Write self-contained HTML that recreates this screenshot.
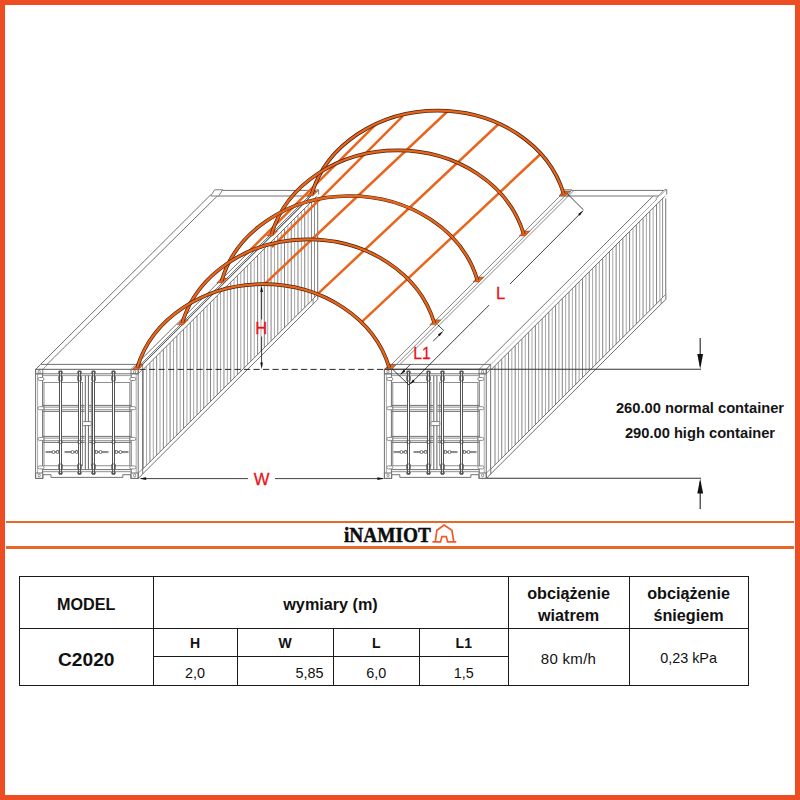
<!DOCTYPE html>
<html lang="pl">
<head>
<meta charset="utf-8">
<title>C2020</title>
<style>
html,body{margin:0;padding:0;background:#fff;}
body{width:800px;height:800px;position:relative;overflow:hidden;font-family:"Liberation Sans",sans-serif;color:#111;}
.frame{position:absolute;left:0;top:0;width:790px;height:790px;border:5px solid #ee4c23;pointer-events:none;z-index:5;}
svg{position:absolute;left:0;top:0;}
svg text{font-family:"Liberation Sans",sans-serif;}
.sep{position:absolute;left:6px;width:788px;height:2.4px;background:#e6682b;}
.logo{position:absolute;left:343.6px;top:523px;height:24px;line-height:24px;font-family:"Liberation Serif",serif;font-weight:bold;font-size:21px;color:#0d0d0d;white-space:nowrap;transform-origin:0 50%;transform:scaleX(0.918);letter-spacing:0px;-webkit-text-stroke:0.45px #0d0d0d;}
.note{position:absolute;left:600px;width:200px;text-align:center;font-weight:bold;font-size:14.7px;color:#151515;white-space:nowrap;}
table{position:absolute;left:19px;top:576px;border-collapse:collapse;table-layout:fixed;width:729px;}
td{border:1.2px solid #1a1a1a;padding:0;text-align:center;vertical-align:middle;color:#111;overflow:hidden;}
.h{font-weight:bold;font-size:16.2px;line-height:22px;padding-top:2px;}
.m{font-weight:bold;font-size:19.2px;padding-top:6px;}
.s{font-weight:bold;font-size:14px;padding-top:1px;}
.v{font-size:14.4px;padding-top:3px;}
</style>
</head>
<body>
<svg width="800" height="800" viewBox="0 0 800 800">
<g id="left-container">
<path d="M35.60,369.40 L138.20,369.40 L317.70,190.40 L215.10,190.40 Z" fill="#fff" stroke="none" stroke-width="0" stroke-linejoin="round"/>
<path d="M35.60,369.40 L40.60,364.40 L143.20,364.40 L138.20,369.40 Z" fill="#fff" stroke="#727272" stroke-width="1.0" stroke-linejoin="round"/>
<line x1="42.80" y1="369.40" x2="47.80" y2="364.40" stroke="#727272" stroke-width="0.8" />
<line x1="131.00" y1="369.40" x2="136.00" y2="364.40" stroke="#727272" stroke-width="0.8" />
<line x1="215.10" y1="190.40" x2="317.70" y2="190.40" stroke="#727272" stroke-width="1.0" />
<line x1="217.10" y1="196.00" x2="311.70" y2="196.00" stroke="#727272" stroke-width="1.0" />
<line x1="40.60" y1="364.40" x2="210.60" y2="194.90" stroke="#727272" stroke-width="1.0" />
<line x1="47.00" y1="364.40" x2="217.30" y2="196.00" stroke="#727272" stroke-width="1.0" />
<line x1="138.20" y1="369.40" x2="317.70" y2="190.40" stroke="#727272" stroke-width="1.0" />
<line x1="136.20" y1="364.40" x2="305.10" y2="196.00" stroke="#727272" stroke-width="1.0" />
<path d="M210.70,196.00 L214.70,189.80 L222.70,189.80 L218.70,196.00 Z" fill="#fff" stroke="#727272" stroke-width="0.9" stroke-linejoin="round"/>
<path d="M308.10,198.60 L316.30,189.80 L318.70,189.80 L318.70,194.00 L313.10,199.40 L308.10,199.40 Z" fill="#fff" stroke="#727272" stroke-width="0.9" stroke-linejoin="round"/>
<line x1="313.10" y1="194.80" x2="313.10" y2="199.40" stroke="#727272" stroke-width="0.8" />
<line x1="313.10" y1="194.80" x2="318.70" y2="189.80" stroke="#727272" stroke-width="0.8" />
<path d="M138.20,369.40 L317.70,190.40 L317.70,299.40 L138.20,478.40 Z" fill="#fff" stroke="none" stroke-width="0" stroke-linejoin="round"/>
<line x1="143.20" y1="369.61" x2="143.20" y2="468.61" stroke="#6e6e6e" stroke-width="0.85" />
<line x1="146.56" y1="366.26" x2="146.56" y2="465.26" stroke="#979797" stroke-width="0.85" />
<line x1="149.93" y1="362.90" x2="149.93" y2="461.90" stroke="#6e6e6e" stroke-width="0.85" />
<line x1="153.29" y1="359.55" x2="153.29" y2="458.55" stroke="#979797" stroke-width="0.85" />
<line x1="156.66" y1="356.19" x2="156.66" y2="455.19" stroke="#6e6e6e" stroke-width="0.85" />
<line x1="160.02" y1="352.84" x2="160.02" y2="451.84" stroke="#979797" stroke-width="0.85" />
<line x1="163.39" y1="349.48" x2="163.39" y2="448.48" stroke="#6e6e6e" stroke-width="0.85" />
<line x1="166.75" y1="346.12" x2="166.75" y2="445.12" stroke="#979797" stroke-width="0.85" />
<line x1="170.12" y1="342.77" x2="170.12" y2="441.77" stroke="#6e6e6e" stroke-width="0.85" />
<line x1="173.48" y1="339.41" x2="173.48" y2="438.41" stroke="#979797" stroke-width="0.85" />
<line x1="176.85" y1="336.06" x2="176.85" y2="435.06" stroke="#6e6e6e" stroke-width="0.85" />
<line x1="180.21" y1="332.70" x2="180.21" y2="431.70" stroke="#979797" stroke-width="0.85" />
<line x1="183.58" y1="329.35" x2="183.58" y2="428.35" stroke="#6e6e6e" stroke-width="0.85" />
<line x1="186.94" y1="325.99" x2="186.94" y2="424.99" stroke="#979797" stroke-width="0.85" />
<line x1="190.31" y1="322.64" x2="190.31" y2="421.64" stroke="#6e6e6e" stroke-width="0.85" />
<line x1="193.67" y1="319.28" x2="193.67" y2="418.28" stroke="#979797" stroke-width="0.85" />
<line x1="197.04" y1="315.92" x2="197.04" y2="414.92" stroke="#6e6e6e" stroke-width="0.85" />
<line x1="200.41" y1="312.57" x2="200.41" y2="411.57" stroke="#979797" stroke-width="0.85" />
<line x1="203.77" y1="309.21" x2="203.77" y2="408.21" stroke="#6e6e6e" stroke-width="0.85" />
<line x1="207.13" y1="305.86" x2="207.13" y2="404.86" stroke="#979797" stroke-width="0.85" />
<line x1="210.50" y1="302.50" x2="210.50" y2="401.50" stroke="#6e6e6e" stroke-width="0.85" />
<line x1="213.87" y1="299.15" x2="213.87" y2="398.15" stroke="#979797" stroke-width="0.85" />
<line x1="217.23" y1="295.79" x2="217.23" y2="394.79" stroke="#6e6e6e" stroke-width="0.85" />
<line x1="220.59" y1="292.43" x2="220.59" y2="391.43" stroke="#979797" stroke-width="0.85" />
<line x1="223.96" y1="289.08" x2="223.96" y2="388.08" stroke="#6e6e6e" stroke-width="0.85" />
<line x1="227.32" y1="285.72" x2="227.32" y2="384.72" stroke="#979797" stroke-width="0.85" />
<line x1="230.69" y1="282.37" x2="230.69" y2="381.37" stroke="#6e6e6e" stroke-width="0.85" />
<line x1="234.06" y1="279.01" x2="234.06" y2="378.01" stroke="#979797" stroke-width="0.85" />
<line x1="237.42" y1="275.66" x2="237.42" y2="374.66" stroke="#6e6e6e" stroke-width="0.85" />
<line x1="240.78" y1="272.30" x2="240.78" y2="371.30" stroke="#979797" stroke-width="0.85" />
<line x1="244.15" y1="268.95" x2="244.15" y2="367.95" stroke="#6e6e6e" stroke-width="0.85" />
<line x1="247.51" y1="265.59" x2="247.51" y2="364.59" stroke="#979797" stroke-width="0.85" />
<line x1="250.88" y1="262.23" x2="250.88" y2="361.23" stroke="#6e6e6e" stroke-width="0.85" />
<line x1="254.25" y1="258.88" x2="254.25" y2="357.88" stroke="#979797" stroke-width="0.85" />
<line x1="257.61" y1="255.52" x2="257.61" y2="354.52" stroke="#6e6e6e" stroke-width="0.85" />
<line x1="260.98" y1="252.17" x2="260.98" y2="351.17" stroke="#979797" stroke-width="0.85" />
<line x1="264.34" y1="248.81" x2="264.34" y2="347.81" stroke="#6e6e6e" stroke-width="0.85" />
<line x1="267.70" y1="245.46" x2="267.70" y2="344.46" stroke="#979797" stroke-width="0.85" />
<line x1="271.07" y1="242.10" x2="271.07" y2="341.10" stroke="#6e6e6e" stroke-width="0.85" />
<line x1="274.44" y1="238.74" x2="274.44" y2="337.74" stroke="#979797" stroke-width="0.85" />
<line x1="277.80" y1="235.39" x2="277.80" y2="334.39" stroke="#6e6e6e" stroke-width="0.85" />
<line x1="281.16" y1="232.03" x2="281.16" y2="331.03" stroke="#979797" stroke-width="0.85" />
<line x1="284.53" y1="228.68" x2="284.53" y2="327.68" stroke="#6e6e6e" stroke-width="0.85" />
<line x1="287.89" y1="225.32" x2="287.89" y2="324.32" stroke="#979797" stroke-width="0.85" />
<line x1="291.26" y1="221.97" x2="291.26" y2="320.97" stroke="#6e6e6e" stroke-width="0.85" />
<line x1="294.62" y1="218.61" x2="294.62" y2="317.61" stroke="#979797" stroke-width="0.85" />
<line x1="297.99" y1="215.26" x2="297.99" y2="314.26" stroke="#6e6e6e" stroke-width="0.85" />
<line x1="301.36" y1="211.90" x2="301.36" y2="310.90" stroke="#979797" stroke-width="0.85" />
<line x1="304.72" y1="208.54" x2="304.72" y2="307.54" stroke="#6e6e6e" stroke-width="0.85" />
<line x1="308.09" y1="205.19" x2="308.09" y2="304.19" stroke="#979797" stroke-width="0.85" />
<line x1="311.45" y1="201.83" x2="311.45" y2="300.83" stroke="#6e6e6e" stroke-width="0.85" />
<line x1="142.60" y1="370.40" x2="142.60" y2="474.00" stroke="#727272" stroke-width="1.0" />
<line x1="142.60" y1="370.00" x2="316.70" y2="196.40" stroke="#727272" stroke-width="1.0" />
<line x1="138.20" y1="478.40" x2="317.70" y2="299.40" stroke="#727272" stroke-width="1.0" />
<line x1="142.60" y1="469.20" x2="314.70" y2="297.60" stroke="#727272" stroke-width="1.0" />
<line x1="317.70" y1="198.40" x2="317.70" y2="299.40" stroke="#727272" stroke-width="1.0" />
<line x1="314.50" y1="198.40" x2="314.50" y2="299.90" stroke="#727272" stroke-width="0.8" />
<path d="M313.10,304.00 L313.10,298.90 L317.70,294.40 L317.70,299.40 Z" fill="#fff" stroke="#727272" stroke-width="0.8" stroke-linejoin="round"/>
<path d="M138.20,473.20 L142.60,468.80 L142.60,474.00 L138.20,478.40 Z" fill="#fff" stroke="#727272" stroke-width="0.8" stroke-linejoin="round"/>
<path d="M138.20,369.40 L142.60,365.00 L142.60,369.60 L138.20,373.80 Z" fill="#fff" stroke="#727272" stroke-width="0.8" stroke-linejoin="round"/>
<rect x="35.60" y="369.40" width="102.60" height="109.00" fill="#fff" stroke="none"/>
<path d="M35.60,369.40 L138.20,369.40 L138.20,478.40 L130.90,478.40 L130.90,474.70 L122.80,474.70 L122.80,477.40 L51.00,477.40 L51.00,474.70 L42.90,474.70 L42.90,478.40 L35.60,478.40 Z" fill="none" stroke="#727272" stroke-width="1.0" stroke-linejoin="round"/>
<line x1="35.60" y1="373.80" x2="138.20" y2="373.80" stroke="#727272" stroke-width="1.0" />
<line x1="43.00" y1="375.60" x2="130.80" y2="375.60" stroke="#727272" stroke-width="0.7" />
<rect x="35.60" y="369.40" width="7.20" height="4.40" rx="0" fill="none" stroke="#727272" stroke-width="1.0"/>
<ellipse cx="39.20" cy="371.80" rx="1.1" ry="1.5" fill="none" stroke="#727272" stroke-width="0.8"/>
<rect x="131.00" y="369.40" width="7.20" height="4.40" rx="0" fill="none" stroke="#727272" stroke-width="1.0"/>
<ellipse cx="134.60" cy="371.80" rx="1.1" ry="1.5" fill="none" stroke="#727272" stroke-width="0.8"/>
<rect x="35.60" y="473.00" width="7.20" height="5.40" rx="0" fill="none" stroke="#727272" stroke-width="1.0"/>
<ellipse cx="39.20" cy="475.40" rx="1.1" ry="1.5" fill="none" stroke="#727272" stroke-width="0.8"/>
<rect x="131.00" y="473.00" width="7.20" height="5.40" rx="0" fill="none" stroke="#727272" stroke-width="1.0"/>
<ellipse cx="134.60" cy="475.40" rx="1.1" ry="1.5" fill="none" stroke="#727272" stroke-width="0.8"/>
<line x1="42.60" y1="373.80" x2="42.60" y2="473.20" stroke="#727272" stroke-width="1.0" />
<line x1="131.20" y1="373.80" x2="131.20" y2="473.20" stroke="#727272" stroke-width="1.0" />
<line x1="37.60" y1="373.80" x2="37.60" y2="473.20" stroke="#727272" stroke-width="0.6" />
<line x1="136.20" y1="373.80" x2="136.20" y2="473.20" stroke="#727272" stroke-width="0.6" />
<line x1="42.60" y1="469.60" x2="131.20" y2="469.60" stroke="#727272" stroke-width="1.0" />
<line x1="42.60" y1="471.70" x2="131.20" y2="471.70" stroke="#727272" stroke-width="0.8" />
<line x1="85.35" y1="375.60" x2="85.35" y2="469.60" stroke="#727272" stroke-width="1.1" />
<line x1="88.45" y1="375.60" x2="88.45" y2="469.60" stroke="#727272" stroke-width="1.1" />
<rect x="44.00" y="382.40" width="38.50" height="83.40" rx="0" fill="none" stroke="#727272" stroke-width="0.8"/>
<rect x="91.30" y="382.40" width="38.50" height="83.40" rx="0" fill="none" stroke="#727272" stroke-width="0.8"/>
<line x1="42.60" y1="405.40" x2="84.70" y2="405.40" stroke="#727272" stroke-width="1.0" />
<line x1="89.10" y1="405.40" x2="131.20" y2="405.40" stroke="#727272" stroke-width="1.0" />
<line x1="42.60" y1="407.10" x2="84.70" y2="407.10" stroke="#727272" stroke-width="0.8" />
<line x1="89.10" y1="407.10" x2="131.20" y2="407.10" stroke="#727272" stroke-width="0.8" />
<line x1="42.60" y1="409.70" x2="84.70" y2="409.70" stroke="#727272" stroke-width="0.8" />
<line x1="89.10" y1="409.70" x2="131.20" y2="409.70" stroke="#727272" stroke-width="0.8" />
<line x1="42.60" y1="411.40" x2="84.70" y2="411.40" stroke="#727272" stroke-width="1.0" />
<line x1="89.10" y1="411.40" x2="131.20" y2="411.40" stroke="#727272" stroke-width="1.0" />
<line x1="42.60" y1="436.40" x2="84.70" y2="436.40" stroke="#727272" stroke-width="1.0" />
<line x1="89.10" y1="436.40" x2="131.20" y2="436.40" stroke="#727272" stroke-width="1.0" />
<line x1="42.60" y1="438.10" x2="84.70" y2="438.10" stroke="#727272" stroke-width="0.8" />
<line x1="89.10" y1="438.10" x2="131.20" y2="438.10" stroke="#727272" stroke-width="0.8" />
<line x1="42.60" y1="440.70" x2="84.70" y2="440.70" stroke="#727272" stroke-width="0.8" />
<line x1="89.10" y1="440.70" x2="131.20" y2="440.70" stroke="#727272" stroke-width="0.8" />
<line x1="42.60" y1="442.40" x2="84.70" y2="442.40" stroke="#727272" stroke-width="1.0" />
<line x1="89.10" y1="442.40" x2="131.20" y2="442.40" stroke="#727272" stroke-width="1.0" />
<rect x="38.00" y="377.50" width="6.0" height="3.0" rx="1.4" fill="#fff" stroke="#727272" stroke-width="0.8"/>
<rect x="129.80" y="377.50" width="6.0" height="3.0" rx="1.4" fill="#fff" stroke="#727272" stroke-width="0.8"/>
<rect x="38.00" y="406.70" width="6.0" height="3.0" rx="1.4" fill="#fff" stroke="#727272" stroke-width="0.8"/>
<rect x="129.80" y="406.70" width="6.0" height="3.0" rx="1.4" fill="#fff" stroke="#727272" stroke-width="0.8"/>
<rect x="38.00" y="437.40" width="6.0" height="3.0" rx="1.4" fill="#fff" stroke="#727272" stroke-width="0.8"/>
<rect x="129.80" y="437.40" width="6.0" height="3.0" rx="1.4" fill="#fff" stroke="#727272" stroke-width="0.8"/>
<rect x="38.00" y="465.90" width="6.0" height="3.0" rx="1.4" fill="#fff" stroke="#727272" stroke-width="0.8"/>
<rect x="129.80" y="465.90" width="6.0" height="3.0" rx="1.4" fill="#fff" stroke="#727272" stroke-width="0.8"/>
<rect x="59.50" y="371.40" width="2.0" height="102.60" fill="#fff" stroke="#555555" stroke-width="1.0"/>
<rect x="58.60" y="371.00" width="3.8" height="2.8" rx="0.8" fill="none" stroke="#555555" stroke-width="0.8"/>
<rect x="58.60" y="375.80" width="3.8" height="5.2" rx="0.8" fill="none" stroke="#555555" stroke-width="0.8"/>
<rect x="58.60" y="464.00" width="3.8" height="5.6" rx="0.8" fill="none" stroke="#555555" stroke-width="0.8"/>
<rect x="58.60" y="471.70" width="3.8" height="2.5" rx="0.8" fill="none" stroke="#555555" stroke-width="0.8"/>
<rect x="58.90" y="440.40" width="3.2" height="3.2" rx="0.8" fill="none" stroke="#555555" stroke-width="0.7"/>
<rect x="78.50" y="371.40" width="2.0" height="102.60" fill="#fff" stroke="#555555" stroke-width="1.0"/>
<rect x="77.60" y="371.00" width="3.8" height="2.8" rx="0.8" fill="none" stroke="#555555" stroke-width="0.8"/>
<rect x="77.60" y="375.80" width="3.8" height="5.2" rx="0.8" fill="none" stroke="#555555" stroke-width="0.8"/>
<rect x="77.60" y="464.00" width="3.8" height="5.6" rx="0.8" fill="none" stroke="#555555" stroke-width="0.8"/>
<rect x="77.60" y="471.70" width="3.8" height="2.5" rx="0.8" fill="none" stroke="#555555" stroke-width="0.8"/>
<rect x="77.90" y="440.40" width="3.2" height="3.2" rx="0.8" fill="none" stroke="#555555" stroke-width="0.7"/>
<rect x="92.50" y="371.40" width="2.0" height="102.60" fill="#fff" stroke="#555555" stroke-width="1.0"/>
<rect x="91.60" y="371.00" width="3.8" height="2.8" rx="0.8" fill="none" stroke="#555555" stroke-width="0.8"/>
<rect x="91.60" y="375.80" width="3.8" height="5.2" rx="0.8" fill="none" stroke="#555555" stroke-width="0.8"/>
<rect x="91.60" y="464.00" width="3.8" height="5.6" rx="0.8" fill="none" stroke="#555555" stroke-width="0.8"/>
<rect x="91.60" y="471.70" width="3.8" height="2.5" rx="0.8" fill="none" stroke="#555555" stroke-width="0.8"/>
<rect x="91.90" y="440.40" width="3.2" height="3.2" rx="0.8" fill="none" stroke="#555555" stroke-width="0.7"/>
<rect x="112.50" y="371.40" width="2.0" height="102.60" fill="#fff" stroke="#555555" stroke-width="1.0"/>
<rect x="111.60" y="371.00" width="3.8" height="2.8" rx="0.8" fill="none" stroke="#555555" stroke-width="0.8"/>
<rect x="111.60" y="375.80" width="3.8" height="5.2" rx="0.8" fill="none" stroke="#555555" stroke-width="0.8"/>
<rect x="111.60" y="464.00" width="3.8" height="5.6" rx="0.8" fill="none" stroke="#555555" stroke-width="0.8"/>
<rect x="111.60" y="471.70" width="3.8" height="2.5" rx="0.8" fill="none" stroke="#555555" stroke-width="0.8"/>
<rect x="111.90" y="440.40" width="3.2" height="3.2" rx="0.8" fill="none" stroke="#555555" stroke-width="0.7"/>
<line x1="45.50" y1="451.50" x2="59.50" y2="451.50" stroke="#555555" stroke-width="0.7" />
<line x1="45.50" y1="452.60" x2="59.50" y2="452.60" stroke="#555555" stroke-width="0.7" />
<circle cx="53.50" cy="452.00" r="1.5" fill="#fff" stroke="#555555" stroke-width="0.8"/>
<rect x="56.80" y="450.60" width="1.8" height="2.8" fill="#fff" stroke="#555555" stroke-width="0.6"/>
<line x1="64.50" y1="451.50" x2="78.50" y2="451.50" stroke="#555555" stroke-width="0.7" />
<line x1="64.50" y1="452.60" x2="78.50" y2="452.60" stroke="#555555" stroke-width="0.7" />
<circle cx="72.50" cy="452.00" r="1.5" fill="#fff" stroke="#555555" stroke-width="0.8"/>
<rect x="75.80" y="450.60" width="1.8" height="2.8" fill="#fff" stroke="#555555" stroke-width="0.6"/>
<line x1="108.50" y1="451.50" x2="94.50" y2="451.50" stroke="#555555" stroke-width="0.7" />
<line x1="108.50" y1="452.60" x2="94.50" y2="452.60" stroke="#555555" stroke-width="0.7" />
<circle cx="100.50" cy="452.00" r="1.5" fill="#fff" stroke="#555555" stroke-width="0.8"/>
<rect x="95.40" y="450.60" width="1.8" height="2.8" fill="#fff" stroke="#555555" stroke-width="0.6"/>
<line x1="128.50" y1="451.50" x2="114.50" y2="451.50" stroke="#555555" stroke-width="0.7" />
<line x1="128.50" y1="452.60" x2="114.50" y2="452.60" stroke="#555555" stroke-width="0.7" />
<circle cx="120.50" cy="452.00" r="1.5" fill="#fff" stroke="#555555" stroke-width="0.8"/>
<rect x="115.40" y="450.60" width="1.8" height="2.8" fill="#fff" stroke="#555555" stroke-width="0.6"/>
<rect x="82.50" y="421.60" width="8.8" height="4.0" rx="0.8" fill="#fff" stroke="#727272" stroke-width="0.9"/>
</g>
<g id="right-container">
<path d="M384.40,369.40 L486.25,369.40 L665.75,190.40 L563.90,190.40 Z" fill="#fff" stroke="none" stroke-width="0" stroke-linejoin="round"/>
<path d="M384.40,369.40 L389.40,364.40 L491.25,364.40 L486.25,369.40 Z" fill="#fff" stroke="#727272" stroke-width="1.0" stroke-linejoin="round"/>
<line x1="391.60" y1="369.40" x2="396.60" y2="364.40" stroke="#727272" stroke-width="0.8" />
<line x1="479.05" y1="369.40" x2="484.05" y2="364.40" stroke="#727272" stroke-width="0.8" />
<line x1="563.90" y1="190.40" x2="665.75" y2="190.40" stroke="#727272" stroke-width="1.0" />
<line x1="565.90" y1="196.00" x2="659.75" y2="196.00" stroke="#727272" stroke-width="1.0" />
<line x1="486.25" y1="369.40" x2="665.75" y2="190.40" stroke="#727272" stroke-width="1.0" />
<line x1="484.25" y1="364.40" x2="653.15" y2="196.00" stroke="#727272" stroke-width="1.0" />
<path d="M559.50,196.00 L563.50,189.80 L571.50,189.80 L567.50,196.00 Z" fill="#fff" stroke="#727272" stroke-width="0.9" stroke-linejoin="round"/>
<path d="M656.15,198.60 L664.35,189.80 L666.75,189.80 L666.75,194.00 L661.15,199.40 L656.15,199.40 Z" fill="#fff" stroke="#727272" stroke-width="0.9" stroke-linejoin="round"/>
<line x1="661.15" y1="194.80" x2="661.15" y2="199.40" stroke="#727272" stroke-width="0.8" />
<line x1="661.15" y1="194.80" x2="666.75" y2="189.80" stroke="#727272" stroke-width="0.8" />
<path d="M486.25,369.40 L665.75,190.40 L665.75,299.40 L486.25,478.40 Z" fill="#fff" stroke="none" stroke-width="0" stroke-linejoin="round"/>
<line x1="495.00" y1="365.87" x2="495.00" y2="464.87" stroke="#6e6e6e" stroke-width="0.85" />
<line x1="498.37" y1="362.52" x2="498.37" y2="461.52" stroke="#979797" stroke-width="0.85" />
<line x1="501.73" y1="359.16" x2="501.73" y2="458.16" stroke="#6e6e6e" stroke-width="0.85" />
<line x1="505.10" y1="355.81" x2="505.10" y2="454.81" stroke="#979797" stroke-width="0.85" />
<line x1="508.46" y1="352.45" x2="508.46" y2="451.45" stroke="#6e6e6e" stroke-width="0.85" />
<line x1="511.82" y1="349.10" x2="511.82" y2="448.10" stroke="#979797" stroke-width="0.85" />
<line x1="515.19" y1="345.74" x2="515.19" y2="444.74" stroke="#6e6e6e" stroke-width="0.85" />
<line x1="518.55" y1="342.38" x2="518.55" y2="441.38" stroke="#979797" stroke-width="0.85" />
<line x1="521.92" y1="339.03" x2="521.92" y2="438.03" stroke="#6e6e6e" stroke-width="0.85" />
<line x1="525.28" y1="335.67" x2="525.28" y2="434.67" stroke="#979797" stroke-width="0.85" />
<line x1="528.65" y1="332.32" x2="528.65" y2="431.32" stroke="#6e6e6e" stroke-width="0.85" />
<line x1="532.01" y1="328.96" x2="532.01" y2="427.96" stroke="#979797" stroke-width="0.85" />
<line x1="535.38" y1="325.61" x2="535.38" y2="424.61" stroke="#6e6e6e" stroke-width="0.85" />
<line x1="538.75" y1="322.25" x2="538.75" y2="421.25" stroke="#979797" stroke-width="0.85" />
<line x1="542.11" y1="318.90" x2="542.11" y2="417.90" stroke="#6e6e6e" stroke-width="0.85" />
<line x1="545.48" y1="315.54" x2="545.48" y2="414.54" stroke="#979797" stroke-width="0.85" />
<line x1="548.84" y1="312.18" x2="548.84" y2="411.18" stroke="#6e6e6e" stroke-width="0.85" />
<line x1="552.21" y1="308.83" x2="552.21" y2="407.83" stroke="#979797" stroke-width="0.85" />
<line x1="555.57" y1="305.47" x2="555.57" y2="404.47" stroke="#6e6e6e" stroke-width="0.85" />
<line x1="558.93" y1="302.12" x2="558.93" y2="401.12" stroke="#979797" stroke-width="0.85" />
<line x1="562.30" y1="298.76" x2="562.30" y2="397.76" stroke="#6e6e6e" stroke-width="0.85" />
<line x1="565.66" y1="295.41" x2="565.66" y2="394.41" stroke="#979797" stroke-width="0.85" />
<line x1="569.03" y1="292.05" x2="569.03" y2="391.05" stroke="#6e6e6e" stroke-width="0.85" />
<line x1="572.39" y1="288.69" x2="572.39" y2="387.69" stroke="#979797" stroke-width="0.85" />
<line x1="575.76" y1="285.34" x2="575.76" y2="384.34" stroke="#6e6e6e" stroke-width="0.85" />
<line x1="579.12" y1="281.98" x2="579.12" y2="380.98" stroke="#979797" stroke-width="0.85" />
<line x1="582.49" y1="278.63" x2="582.49" y2="377.63" stroke="#6e6e6e" stroke-width="0.85" />
<line x1="585.86" y1="275.27" x2="585.86" y2="374.27" stroke="#979797" stroke-width="0.85" />
<line x1="589.22" y1="271.92" x2="589.22" y2="370.92" stroke="#6e6e6e" stroke-width="0.85" />
<line x1="592.59" y1="268.56" x2="592.59" y2="367.56" stroke="#979797" stroke-width="0.85" />
<line x1="595.95" y1="265.21" x2="595.95" y2="364.21" stroke="#6e6e6e" stroke-width="0.85" />
<line x1="599.32" y1="261.85" x2="599.32" y2="360.85" stroke="#979797" stroke-width="0.85" />
<line x1="602.68" y1="258.49" x2="602.68" y2="357.49" stroke="#6e6e6e" stroke-width="0.85" />
<line x1="606.04" y1="255.14" x2="606.04" y2="354.14" stroke="#979797" stroke-width="0.85" />
<line x1="609.41" y1="251.78" x2="609.41" y2="350.78" stroke="#6e6e6e" stroke-width="0.85" />
<line x1="612.77" y1="248.43" x2="612.77" y2="347.43" stroke="#979797" stroke-width="0.85" />
<line x1="616.14" y1="245.07" x2="616.14" y2="344.07" stroke="#6e6e6e" stroke-width="0.85" />
<line x1="619.50" y1="241.72" x2="619.50" y2="340.72" stroke="#979797" stroke-width="0.85" />
<line x1="622.87" y1="238.36" x2="622.87" y2="337.36" stroke="#6e6e6e" stroke-width="0.85" />
<line x1="626.24" y1="235.00" x2="626.24" y2="334.00" stroke="#979797" stroke-width="0.85" />
<line x1="629.60" y1="231.65" x2="629.60" y2="330.65" stroke="#6e6e6e" stroke-width="0.85" />
<line x1="632.97" y1="228.29" x2="632.97" y2="327.29" stroke="#979797" stroke-width="0.85" />
<line x1="636.33" y1="224.94" x2="636.33" y2="323.94" stroke="#6e6e6e" stroke-width="0.85" />
<line x1="639.70" y1="221.58" x2="639.70" y2="320.58" stroke="#979797" stroke-width="0.85" />
<line x1="643.06" y1="218.23" x2="643.06" y2="317.23" stroke="#6e6e6e" stroke-width="0.85" />
<line x1="646.42" y1="214.87" x2="646.42" y2="313.87" stroke="#979797" stroke-width="0.85" />
<line x1="649.79" y1="211.52" x2="649.79" y2="310.52" stroke="#6e6e6e" stroke-width="0.85" />
<line x1="653.15" y1="208.16" x2="653.15" y2="307.16" stroke="#979797" stroke-width="0.85" />
<line x1="656.52" y1="204.80" x2="656.52" y2="303.80" stroke="#6e6e6e" stroke-width="0.85" />
<line x1="659.88" y1="201.45" x2="659.88" y2="300.45" stroke="#979797" stroke-width="0.85" />
<line x1="490.65" y1="370.40" x2="490.65" y2="474.00" stroke="#727272" stroke-width="1.0" />
<line x1="490.65" y1="370.00" x2="664.75" y2="196.40" stroke="#727272" stroke-width="1.0" />
<line x1="486.25" y1="478.40" x2="665.75" y2="299.40" stroke="#727272" stroke-width="1.0" />
<line x1="490.65" y1="469.20" x2="662.75" y2="297.60" stroke="#727272" stroke-width="1.0" />
<line x1="665.75" y1="198.40" x2="665.75" y2="299.40" stroke="#727272" stroke-width="1.0" />
<line x1="662.55" y1="198.40" x2="662.55" y2="299.90" stroke="#727272" stroke-width="0.8" />
<path d="M661.15,304.00 L661.15,298.90 L665.75,294.40 L665.75,299.40 Z" fill="#fff" stroke="#727272" stroke-width="0.8" stroke-linejoin="round"/>
<path d="M486.25,473.20 L490.65,468.80 L490.65,474.00 L486.25,478.40 Z" fill="#fff" stroke="#727272" stroke-width="0.8" stroke-linejoin="round"/>
<path d="M486.25,369.40 L490.65,365.00 L490.65,369.60 L486.25,373.80 Z" fill="#fff" stroke="#727272" stroke-width="0.8" stroke-linejoin="round"/>
<rect x="384.40" y="369.40" width="101.85" height="109.00" fill="#fff" stroke="none"/>
<path d="M384.40,369.40 L486.25,369.40 L486.25,478.40 L478.95,478.40 L478.95,474.70 L470.85,474.70 L470.85,477.40 L399.80,477.40 L399.80,474.70 L391.70,474.70 L391.70,478.40 L384.40,478.40 Z" fill="none" stroke="#727272" stroke-width="1.0" stroke-linejoin="round"/>
<line x1="384.40" y1="373.80" x2="486.25" y2="373.80" stroke="#727272" stroke-width="1.0" />
<line x1="391.80" y1="375.60" x2="478.85" y2="375.60" stroke="#727272" stroke-width="0.7" />
<rect x="384.40" y="369.40" width="7.20" height="4.40" rx="0" fill="none" stroke="#727272" stroke-width="1.0"/>
<ellipse cx="388.00" cy="371.80" rx="1.1" ry="1.5" fill="none" stroke="#727272" stroke-width="0.8"/>
<rect x="479.05" y="369.40" width="7.20" height="4.40" rx="0" fill="none" stroke="#727272" stroke-width="1.0"/>
<ellipse cx="482.65" cy="371.80" rx="1.1" ry="1.5" fill="none" stroke="#727272" stroke-width="0.8"/>
<rect x="384.40" y="473.00" width="7.20" height="5.40" rx="0" fill="none" stroke="#727272" stroke-width="1.0"/>
<ellipse cx="388.00" cy="475.40" rx="1.1" ry="1.5" fill="none" stroke="#727272" stroke-width="0.8"/>
<rect x="479.05" y="473.00" width="7.20" height="5.40" rx="0" fill="none" stroke="#727272" stroke-width="1.0"/>
<ellipse cx="482.65" cy="475.40" rx="1.1" ry="1.5" fill="none" stroke="#727272" stroke-width="0.8"/>
<line x1="391.40" y1="373.80" x2="391.40" y2="473.20" stroke="#727272" stroke-width="1.0" />
<line x1="479.25" y1="373.80" x2="479.25" y2="473.20" stroke="#727272" stroke-width="1.0" />
<line x1="386.40" y1="373.80" x2="386.40" y2="473.20" stroke="#727272" stroke-width="0.6" />
<line x1="484.25" y1="373.80" x2="484.25" y2="473.20" stroke="#727272" stroke-width="0.6" />
<line x1="391.40" y1="469.60" x2="479.25" y2="469.60" stroke="#727272" stroke-width="1.0" />
<line x1="391.40" y1="471.70" x2="479.25" y2="471.70" stroke="#727272" stroke-width="0.8" />
<line x1="433.77" y1="375.60" x2="433.77" y2="469.60" stroke="#727272" stroke-width="1.1" />
<line x1="436.88" y1="375.60" x2="436.88" y2="469.60" stroke="#727272" stroke-width="1.1" />
<rect x="392.80" y="382.40" width="38.13" height="83.40" rx="0" fill="none" stroke="#727272" stroke-width="0.8"/>
<rect x="439.72" y="382.40" width="38.13" height="83.40" rx="0" fill="none" stroke="#727272" stroke-width="0.8"/>
<line x1="391.40" y1="405.40" x2="433.12" y2="405.40" stroke="#727272" stroke-width="1.0" />
<line x1="437.52" y1="405.40" x2="479.25" y2="405.40" stroke="#727272" stroke-width="1.0" />
<line x1="391.40" y1="407.10" x2="433.12" y2="407.10" stroke="#727272" stroke-width="0.8" />
<line x1="437.52" y1="407.10" x2="479.25" y2="407.10" stroke="#727272" stroke-width="0.8" />
<line x1="391.40" y1="409.70" x2="433.12" y2="409.70" stroke="#727272" stroke-width="0.8" />
<line x1="437.52" y1="409.70" x2="479.25" y2="409.70" stroke="#727272" stroke-width="0.8" />
<line x1="391.40" y1="411.40" x2="433.12" y2="411.40" stroke="#727272" stroke-width="1.0" />
<line x1="437.52" y1="411.40" x2="479.25" y2="411.40" stroke="#727272" stroke-width="1.0" />
<line x1="391.40" y1="436.40" x2="433.12" y2="436.40" stroke="#727272" stroke-width="1.0" />
<line x1="437.52" y1="436.40" x2="479.25" y2="436.40" stroke="#727272" stroke-width="1.0" />
<line x1="391.40" y1="438.10" x2="433.12" y2="438.10" stroke="#727272" stroke-width="0.8" />
<line x1="437.52" y1="438.10" x2="479.25" y2="438.10" stroke="#727272" stroke-width="0.8" />
<line x1="391.40" y1="440.70" x2="433.12" y2="440.70" stroke="#727272" stroke-width="0.8" />
<line x1="437.52" y1="440.70" x2="479.25" y2="440.70" stroke="#727272" stroke-width="0.8" />
<line x1="391.40" y1="442.40" x2="433.12" y2="442.40" stroke="#727272" stroke-width="1.0" />
<line x1="437.52" y1="442.40" x2="479.25" y2="442.40" stroke="#727272" stroke-width="1.0" />
<rect x="386.80" y="377.50" width="6.0" height="3.0" rx="1.4" fill="#fff" stroke="#727272" stroke-width="0.8"/>
<rect x="477.85" y="377.50" width="6.0" height="3.0" rx="1.4" fill="#fff" stroke="#727272" stroke-width="0.8"/>
<rect x="386.80" y="406.70" width="6.0" height="3.0" rx="1.4" fill="#fff" stroke="#727272" stroke-width="0.8"/>
<rect x="477.85" y="406.70" width="6.0" height="3.0" rx="1.4" fill="#fff" stroke="#727272" stroke-width="0.8"/>
<rect x="386.80" y="437.40" width="6.0" height="3.0" rx="1.4" fill="#fff" stroke="#727272" stroke-width="0.8"/>
<rect x="477.85" y="437.40" width="6.0" height="3.0" rx="1.4" fill="#fff" stroke="#727272" stroke-width="0.8"/>
<rect x="386.80" y="465.90" width="6.0" height="3.0" rx="1.4" fill="#fff" stroke="#727272" stroke-width="0.8"/>
<rect x="477.85" y="465.90" width="6.0" height="3.0" rx="1.4" fill="#fff" stroke="#727272" stroke-width="0.8"/>
<rect x="407.50" y="371.40" width="2.0" height="102.60" fill="#fff" stroke="#555555" stroke-width="1.0"/>
<rect x="406.60" y="371.00" width="3.8" height="2.8" rx="0.8" fill="none" stroke="#555555" stroke-width="0.8"/>
<rect x="406.60" y="375.80" width="3.8" height="5.2" rx="0.8" fill="none" stroke="#555555" stroke-width="0.8"/>
<rect x="406.60" y="464.00" width="3.8" height="5.6" rx="0.8" fill="none" stroke="#555555" stroke-width="0.8"/>
<rect x="406.60" y="471.70" width="3.8" height="2.5" rx="0.8" fill="none" stroke="#555555" stroke-width="0.8"/>
<rect x="406.90" y="440.40" width="3.2" height="3.2" rx="0.8" fill="none" stroke="#555555" stroke-width="0.7"/>
<rect x="427.50" y="371.40" width="2.0" height="102.60" fill="#fff" stroke="#555555" stroke-width="1.0"/>
<rect x="426.60" y="371.00" width="3.8" height="2.8" rx="0.8" fill="none" stroke="#555555" stroke-width="0.8"/>
<rect x="426.60" y="375.80" width="3.8" height="5.2" rx="0.8" fill="none" stroke="#555555" stroke-width="0.8"/>
<rect x="426.60" y="464.00" width="3.8" height="5.6" rx="0.8" fill="none" stroke="#555555" stroke-width="0.8"/>
<rect x="426.60" y="471.70" width="3.8" height="2.5" rx="0.8" fill="none" stroke="#555555" stroke-width="0.8"/>
<rect x="426.90" y="440.40" width="3.2" height="3.2" rx="0.8" fill="none" stroke="#555555" stroke-width="0.7"/>
<rect x="441.50" y="371.40" width="2.0" height="102.60" fill="#fff" stroke="#555555" stroke-width="1.0"/>
<rect x="440.60" y="371.00" width="3.8" height="2.8" rx="0.8" fill="none" stroke="#555555" stroke-width="0.8"/>
<rect x="440.60" y="375.80" width="3.8" height="5.2" rx="0.8" fill="none" stroke="#555555" stroke-width="0.8"/>
<rect x="440.60" y="464.00" width="3.8" height="5.6" rx="0.8" fill="none" stroke="#555555" stroke-width="0.8"/>
<rect x="440.60" y="471.70" width="3.8" height="2.5" rx="0.8" fill="none" stroke="#555555" stroke-width="0.8"/>
<rect x="440.90" y="440.40" width="3.2" height="3.2" rx="0.8" fill="none" stroke="#555555" stroke-width="0.7"/>
<rect x="460.50" y="371.40" width="2.0" height="102.60" fill="#fff" stroke="#555555" stroke-width="1.0"/>
<rect x="459.60" y="371.00" width="3.8" height="2.8" rx="0.8" fill="none" stroke="#555555" stroke-width="0.8"/>
<rect x="459.60" y="375.80" width="3.8" height="5.2" rx="0.8" fill="none" stroke="#555555" stroke-width="0.8"/>
<rect x="459.60" y="464.00" width="3.8" height="5.6" rx="0.8" fill="none" stroke="#555555" stroke-width="0.8"/>
<rect x="459.60" y="471.70" width="3.8" height="2.5" rx="0.8" fill="none" stroke="#555555" stroke-width="0.8"/>
<rect x="459.90" y="440.40" width="3.2" height="3.2" rx="0.8" fill="none" stroke="#555555" stroke-width="0.7"/>
<line x1="393.50" y1="451.50" x2="407.50" y2="451.50" stroke="#555555" stroke-width="0.7" />
<line x1="393.50" y1="452.60" x2="407.50" y2="452.60" stroke="#555555" stroke-width="0.7" />
<circle cx="401.50" cy="452.00" r="1.5" fill="#fff" stroke="#555555" stroke-width="0.8"/>
<rect x="404.80" y="450.60" width="1.8" height="2.8" fill="#fff" stroke="#555555" stroke-width="0.6"/>
<line x1="413.50" y1="451.50" x2="427.50" y2="451.50" stroke="#555555" stroke-width="0.7" />
<line x1="413.50" y1="452.60" x2="427.50" y2="452.60" stroke="#555555" stroke-width="0.7" />
<circle cx="421.50" cy="452.00" r="1.5" fill="#fff" stroke="#555555" stroke-width="0.8"/>
<rect x="424.80" y="450.60" width="1.8" height="2.8" fill="#fff" stroke="#555555" stroke-width="0.6"/>
<line x1="457.50" y1="451.50" x2="443.50" y2="451.50" stroke="#555555" stroke-width="0.7" />
<line x1="457.50" y1="452.60" x2="443.50" y2="452.60" stroke="#555555" stroke-width="0.7" />
<circle cx="449.50" cy="452.00" r="1.5" fill="#fff" stroke="#555555" stroke-width="0.8"/>
<rect x="444.40" y="450.60" width="1.8" height="2.8" fill="#fff" stroke="#555555" stroke-width="0.6"/>
<line x1="476.50" y1="451.50" x2="462.50" y2="451.50" stroke="#555555" stroke-width="0.7" />
<line x1="476.50" y1="452.60" x2="462.50" y2="452.60" stroke="#555555" stroke-width="0.7" />
<circle cx="468.50" cy="452.00" r="1.5" fill="#fff" stroke="#555555" stroke-width="0.8"/>
<rect x="463.40" y="450.60" width="1.8" height="2.8" fill="#fff" stroke="#555555" stroke-width="0.6"/>
<rect x="430.93" y="421.60" width="8.8" height="4.0" rx="0.8" fill="#fff" stroke="#727272" stroke-width="0.9"/>
</g>
<line x1="391.60" y1="364.40" x2="560.60" y2="195.40" stroke="#727272" stroke-width="0.85" />
<line x1="396.40" y1="364.40" x2="565.40" y2="195.40" stroke="#727272" stroke-width="0.85" />
<line x1="400.00" y1="364.40" x2="573.50" y2="190.90" stroke="#727272" stroke-width="0.85" />
<line x1="139.20" y1="366.00" x2="311.20" y2="194.00" stroke="#555" stroke-width="0.9" />
<line x1="141.00" y1="366.00" x2="313.00" y2="194.00" stroke="#555" stroke-width="0.9" />
<g id="tent" fill="none" stroke-linecap="butt">
<line x1="245.65" y1="254.60" x2="376.56" y2="123.69" stroke="#e8651c" stroke-width="2.5"/>
<line x1="271.90" y1="247.10" x2="402.81" y2="116.19" stroke="#e8651c" stroke-width="2.5"/>
<line x1="264.27" y1="284.29" x2="447.34" y2="111.47" stroke="#e8651c" stroke-width="2.5"/>
<line x1="317.02" y1="294.68" x2="498.34" y2="124.22" stroke="#e8651c" stroke-width="2.5"/>
<line x1="361.27" y1="322.43" x2="540.59" y2="153.97" stroke="#e8651c" stroke-width="2.5"/>
<path d="M306.75,196.01 L311.55,191.01 L317.75,191.01 L312.95,196.01 Z" fill="#e8651c" stroke="#4a230e" stroke-width="0.3" stroke-linejoin="round"/>
<path d="M559.25,196.01 L564.05,191.01 L570.25,191.01 L565.45,196.01 Z" fill="#e8651c" stroke="#4a230e" stroke-width="0.3" stroke-linejoin="round"/>
<path d="M311.75,194.01 A130.0,110.7 0 0 1 563.75,194.01" stroke="#4a230e" stroke-width="3.7"/>
<path d="M311.75,194.01 A130.0,110.7 0 0 1 563.75,194.01" stroke="#e8651c" stroke-width="2.3"/>
<path d="M266.65,235.90 L271.45,230.90 L277.65,230.90 L272.85,235.90 Z" fill="#e8651c" stroke="#4a230e" stroke-width="0.3" stroke-linejoin="round"/>
<path d="M519.15,235.90 L523.95,230.90 L530.15,230.90 L525.35,235.90 Z" fill="#e8651c" stroke="#4a230e" stroke-width="0.3" stroke-linejoin="round"/>
<path d="M271.65,233.90 A130.0,110.7 0 0 1 523.65,233.90" stroke="#4a230e" stroke-width="3.7"/>
<path d="M271.65,233.90 A130.0,110.7 0 0 1 523.65,233.90" stroke="#e8651c" stroke-width="2.3"/>
<path d="M216.65,282.96 L221.45,277.96 L227.65,277.96 L222.85,282.96 Z" fill="#e8651c" stroke="#4a230e" stroke-width="0.3" stroke-linejoin="round"/>
<path d="M472.85,281.96 L477.65,276.96 L483.85,276.96 L479.05,281.96 Z" fill="#e8651c" stroke="#4a230e" stroke-width="0.3" stroke-linejoin="round"/>
<path d="M221.65,280.96 A131.6,110.7 0 0 1 477.35,279.96" stroke="#4a230e" stroke-width="3.7"/>
<path d="M221.65,280.96 A131.6,110.7 0 0 1 477.35,279.96" stroke="#e8651c" stroke-width="2.3"/>
<path d="M177.25,324.83 L182.05,319.83 L188.25,319.83 L183.45,324.83 Z" fill="#e8651c" stroke="#4a230e" stroke-width="0.3" stroke-linejoin="round"/>
<path d="M429.75,324.83 L434.55,319.83 L440.75,319.83 L435.95,324.83 Z" fill="#e8651c" stroke="#4a230e" stroke-width="0.3" stroke-linejoin="round"/>
<path d="M182.25,322.83 A130.0,110.7 0 0 1 434.25,322.83" stroke="#4a230e" stroke-width="3.7"/>
<path d="M182.25,322.83 A130.0,110.7 0 0 1 434.25,322.83" stroke="#e8651c" stroke-width="2.3"/>
<path d="M132.25,369.60 L137.05,364.60 L143.25,364.60 L138.45,369.60 Z" fill="#e8651c" stroke="#4a230e" stroke-width="0.3" stroke-linejoin="round"/>
<path d="M384.75,369.60 L389.55,364.60 L395.75,364.60 L390.95,369.60 Z" fill="#e8651c" stroke="#4a230e" stroke-width="0.3" stroke-linejoin="round"/>
<path d="M137.25,367.60 A130.0,110.7 0 0 1 389.25,367.60" stroke="#4a230e" stroke-width="3.7"/>
<path d="M137.25,367.60 A130.0,110.7 0 0 1 389.25,367.60" stroke="#e8651c" stroke-width="2.3"/>
</g>
<g id="dims">
<line x1="139.50" y1="369.40" x2="385.00" y2="369.40" stroke="#111" stroke-width="0.9" stroke-dasharray="6.2 3.3"/>
<line x1="385.00" y1="369.30" x2="701.00" y2="369.30" stroke="#333" stroke-width="1.1" />
<line x1="487.00" y1="478.20" x2="701.00" y2="478.20" stroke="#333" stroke-width="1.1" />
<line x1="700.20" y1="338.00" x2="700.20" y2="366.00" stroke="#333" stroke-width="1.2" />
<path d="M700.20,369.00 L697.30,354.00 L703.10,354.00 Z" fill="#111" stroke="none"/>
<line x1="700.20" y1="509.00" x2="700.20" y2="482.00" stroke="#333" stroke-width="1.2" />
<path d="M700.20,478.60 L703.10,493.60 L697.30,493.60 Z" fill="#111" stroke="none"/>
<line x1="261.60" y1="289.00" x2="261.60" y2="319.50" stroke="#111" stroke-width="0.8" />
<line x1="261.60" y1="336.50" x2="261.60" y2="366.50" stroke="#111" stroke-width="0.8" />
<path d="M261.60,285.60 L262.90,292.10 L260.30,292.10 Z" fill="#111" stroke="none"/>
<path d="M261.60,369.00 L260.30,362.50 L262.90,362.50 Z" fill="#111" stroke="none"/>
<text x="261.20" y="334.00" font-size="16.6" fill="#e8141c" stroke="#e8141c" stroke-width="0.3" font-weight="normal" text-anchor="middle">H</text>
<line x1="141.00" y1="478.60" x2="248.00" y2="478.60" stroke="#111" stroke-width="0.8" />
<line x1="275.00" y1="478.60" x2="383.00" y2="478.60" stroke="#111" stroke-width="0.8" />
<path d="M139.20,478.60 L146.20,477.30 L146.20,479.90 Z" fill="#111" stroke="none"/>
<path d="M384.40,478.60 L377.40,479.90 L377.40,477.30 Z" fill="#111" stroke="none"/>
<text x="261.50" y="484.60" font-size="16.6" fill="#e8141c" stroke="#e8141c" stroke-width="0.3" font-weight="normal" text-anchor="middle">W</text>
<line x1="392.50" y1="369.20" x2="409.20" y2="385.20" stroke="#111" stroke-width="0.8" />
<line x1="437.50" y1="324.60" x2="443.90" y2="330.60" stroke="#111" stroke-width="0.8" />
<line x1="566.50" y1="193.00" x2="583.60" y2="210.00" stroke="#111" stroke-width="0.8" />
<line x1="400.80" y1="374.20" x2="410.40" y2="364.40" stroke="#111" stroke-width="0.8" />
<path d="M400.20,374.80 L403.59,369.71 L405.29,371.41 Z" fill="#111" stroke="none"/>
<line x1="433.20" y1="341.20" x2="442.40" y2="331.80" stroke="#111" stroke-width="0.8" />
<path d="M443.00,331.10 L439.61,336.19 L437.91,334.49 Z" fill="#111" stroke="none"/>
<text x="422.00" y="358.90" font-size="15.6" fill="#e8141c" stroke="#e8141c" stroke-width="0.3" font-weight="normal" text-anchor="middle">L1</text>
<line x1="410.00" y1="384.20" x2="489.20" y2="305.00" stroke="#111" stroke-width="0.8" />
<line x1="510.00" y1="284.00" x2="582.60" y2="211.20" stroke="#111" stroke-width="0.8" />
<path d="M409.60,384.60 L412.99,379.51 L414.69,381.21 Z" fill="#111" stroke="none"/>
<path d="M583.20,210.60 L579.81,215.69 L578.11,213.99 Z" fill="#111" stroke="none"/>
<text x="500.60" y="299.20" font-size="16.6" fill="#e8141c" stroke="#e8141c" stroke-width="0.3" font-weight="normal" text-anchor="middle">L</text>
</g>
</svg>
<div class="sep" style="top:520.9px"></div>
<div class="sep" style="top:546.3px"></div>
<div class="logo">iNAMIOT</div>
<svg width="800" height="800" viewBox="0 0 800 800" style="pointer-events:none">
<path d="M432.4,541.9 L440.6,541.9 L441.9,536.6 L446.3,536.6 L447.6,541.9 L456.3,541.9 M435.3,541.9 L436.9,530.3 L444.1,525.1 L451.9,530.3 L453.8,541.9" fill="none" stroke="#f05a28" stroke-width="1.7" stroke-linejoin="miter" stroke-linecap="butt"/>
</svg>
<div class="note" style="top:400.3px">260.00 normal container</div>
<div class="note" style="top:425.3px">290.00 high container</div>
<table>
<colgroup><col style="width:133.5px"><col style="width:84px"><col style="width:96px"><col style="width:86.5px"><col style="width:88.5px"><col style="width:121px"><col style="width:119px"></colgroup>
<tr style="height:52px"><td class="h">MODEL</td><td class="h" colspan="4">wymiary (m)</td><td class="h">obciążenie<br>wiatrem</td><td class="h">obciążenie<br>śniegiem</td></tr>
<tr style="height:28px"><td class="m" rowspan="2">C2020</td><td class="s">H</td><td class="s">W</td><td class="s">L</td><td class="s">L1</td><td class="v" rowspan="2" style="font-size:15px;letter-spacing:0.3px;padding-top:2px">80 km/h</td><td class="v" rowspan="2" style="padding-top:2.5px">0,23 kPa</td></tr>
<tr style="height:29px"><td class="v">2,0</td><td class="v" style="text-align:right;padding-right:9px">5,85</td><td class="v">6,0</td><td class="v">1,5</td></tr>
</table>
<div class="frame"></div>
</body>
</html>
